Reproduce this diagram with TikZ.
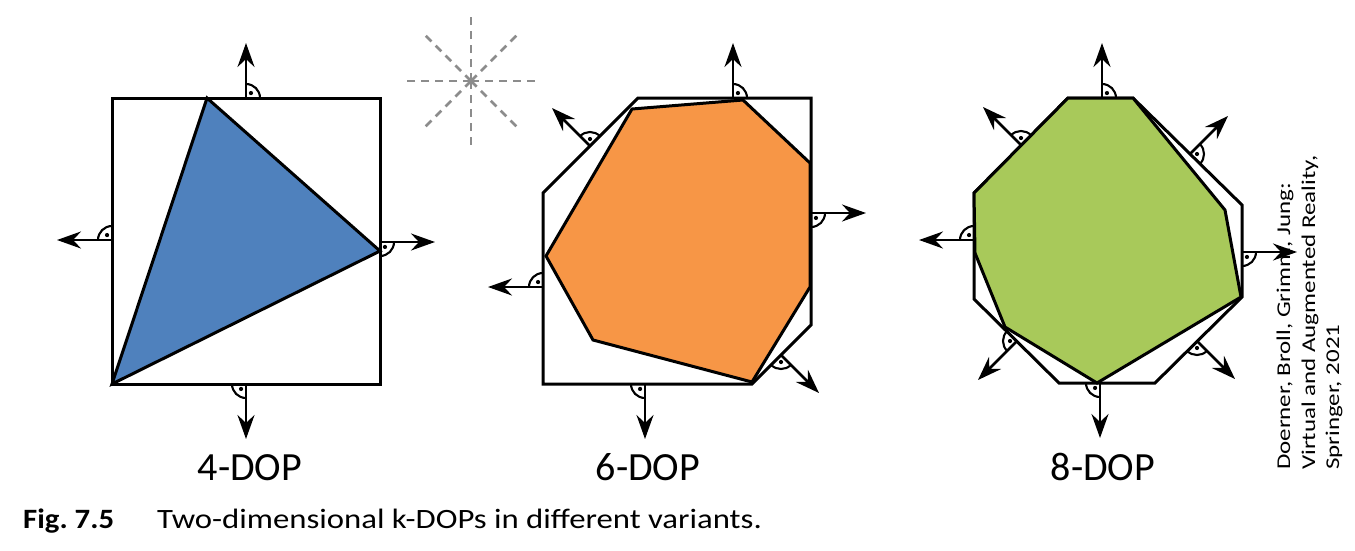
\documentclass[tikz,border=0pt]{standalone}
\usepackage{fontspec}
\setmainfont{Carlito}
\usetikzlibrary{arrows.meta}
\definecolor{dopblue}{RGB}{79,129,189}
\definecolor{doporange}{RGB}{247,150,70}
\definecolor{dopgreen}{RGB}{168,201,90}
\definecolor{raygray}{RGB}{140,140,140}
\tikzset{
  hull/.style={line width=3pt, line join=miter},
  body/.style={line width=3pt, line join=miter, draw=black},
  normalarrow/.style={line width=2.7pt, -{Stealth[length=24pt,width=17pt,inset=8pt]}},
  markarc/.style={line width=2.1pt},
  ray/.style={draw=raygray, line width=2.8pt, dash pattern=on 8pt off 6pt},
  lbl/.style={font=\fontsize{40}{48}\selectfont, inner sep=0pt, anchor=base},
  credit/.style={font=\fontsize{19.5}{24}\selectfont, inner sep=0pt, rotate=90, xscale=1.28, anchor=base west}
}
\newcommand{\rmark}[2]{%
  \draw[markarc] (#1) ++(#2:14) arc[start angle=#2, end angle=#2+90, radius=14];
  \fill (#1) ++(#2+45:7) circle[radius=2.1];}
\begin{document}
\begin{tikzpicture}[x=1pt,y=-1pt]
\useasboundingbox (0,0) rectangle (1355,550);

% ---------- 4-DOP ----------
\draw[hull] (112,98) rectangle (380,384);
\filldraw[body, fill=dopblue] (207,98) -- (380,251) -- (112,384) -- cycle;
\coordinate (a1b) at (246,98);  \coordinate (a1t) at (246,43);
\coordinate (a2b) at (112,240); \coordinate (a2t) at (57,240);
\coordinate (a3b) at (380,242); \coordinate (a3t) at (435,242);
\coordinate (a4b) at (246,384); \coordinate (a4t) at (246,439);
\rmark{a1b}{-90} \rmark{a2b}{180} \rmark{a3b}{0} \rmark{a4b}{90}
\draw[normalarrow] (a1b) -- (a1t);
\draw[normalarrow] (a2b) -- (a2t);
\draw[normalarrow] (a3b) -- (a3t);
\draw[normalarrow] (a4b) -- (a4t);

% ---------- star of directions ----------
\coordinate (sc) at (471,81);
\foreach \ang in {0,45,...,315} {
  \draw[ray] (sc) -- ++(\ang:68);
}

% ---------- 6-DOP ----------
\draw[hull] (638,98) -- (811,98) -- (811,325) -- (752,384) -- (543,384) -- (543,193) -- cycle;
\filldraw[body, fill=doporange] (632,109) -- (743,100) -- (810,163) -- (810,287) -- (752,382) -- (593,340) -- (546,256) -- cycle;
\coordinate (b1b) at (733,98);  \coordinate (b1t) at (733,43);
\coordinate (b2b) at (590,146); \coordinate (b2t) at (552,108);
\coordinate (b3b) at (811,213); \coordinate (b3t) at (866,213);
\coordinate (b4b) at (543,287); \coordinate (b4t) at (488,287);
\coordinate (b5b) at (781,355); \coordinate (b5t) at (819,393);
\coordinate (b6b) at (645,384); \coordinate (b6t) at (645,439);
\rmark{b1b}{-90} \rmark{b2b}{225} \rmark{b3b}{0} \rmark{b4b}{180} \rmark{b5b}{45} \rmark{b6b}{90}
\draw[normalarrow] (b1b) -- (b1t);
\draw[normalarrow] (b2b) -- (b2t);
\draw[normalarrow] (b3b) -- (b3t);
\draw[normalarrow] (b4b) -- (b4t);
\draw[normalarrow] (b5b) -- (b5t);
\draw[normalarrow] (b6b) -- (b6t);

% ---------- 8-DOP ----------
\draw[hull] (1068,98) -- (1133,98) -- (1242,205) -- (1242,297) -- (1155,383) -- (1059,383) -- (974,299) -- (974,193) -- cycle;
\filldraw[body, fill=dopgreen] (1068,98) -- (1133,98) -- (1225,210) -- (1241,297) -- (1097,383) -- (1005,327) -- (975,253) -- (974,193) -- cycle;
\coordinate (c1b) at (1102,98);  \coordinate (c1t) at (1102,43);
\coordinate (c2b) at (1021,145); \coordinate (c2t) at (983,107);
\coordinate (c3b) at (1190,154); \coordinate (c3t) at (1228,116);
\coordinate (c4b) at (974,240);  \coordinate (c4t) at (919,240);
\coordinate (c5b) at (1242,252); \coordinate (c5t) at (1297,252);
\coordinate (c6b) at (1017,341); \coordinate (c6t) at (978,380);
\coordinate (c7b) at (1197,341); \coordinate (c7t) at (1235,379);
\coordinate (c8b) at (1100,383); \coordinate (c8t) at (1100,438);
\rmark{c1b}{-90} \rmark{c2b}{225} \rmark{c3b}{315} \rmark{c4b}{180}
\rmark{c5b}{0} \rmark{c6b}{135} \rmark{c7b}{45} \rmark{c8b}{90}
\draw[normalarrow] (c1b) -- (c1t);
\draw[normalarrow] (c2b) -- (c2t);
\draw[normalarrow] (c3b) -- (c3t);
\draw[normalarrow] (c4b) -- (c4t);
\draw[normalarrow] (c5b) -- (c5t);
\draw[normalarrow] (c6b) -- (c6t);
\draw[normalarrow] (c7b) -- (c7t);
\draw[normalarrow] (c8b) -- (c8t);

% ---------- labels ----------
\node[lbl] (l4) at (250,480) {4-DOP};
\node[lbl] (l6) at (648,480) {6-DOP};
\node[lbl] (l8) at (1103,480) {8-DOP};

\node[credit] (cr1) at (1290,470) {Doerner, Broll, Grimm, Jung:};
\node[credit] (cr2) at (1315,470) {Virtual and Augmented Reality,};
\node[credit] (cr3) at (1339,470) {Springer, 2021};

\node[font=\fontsize{28}{34}\selectfont\bfseries, inner sep=0pt, xscale=1.1, anchor=base west] (fig) at (23,528) {Fig.\ 7.5};
\node[font=\fontsize{28}{34}\selectfont, inner sep=0pt, xscale=1.17, anchor=base west] (cap) at (157,528) {Two-dimensional k-DOPs in different variants.};
\end{tikzpicture}
\end{document}
